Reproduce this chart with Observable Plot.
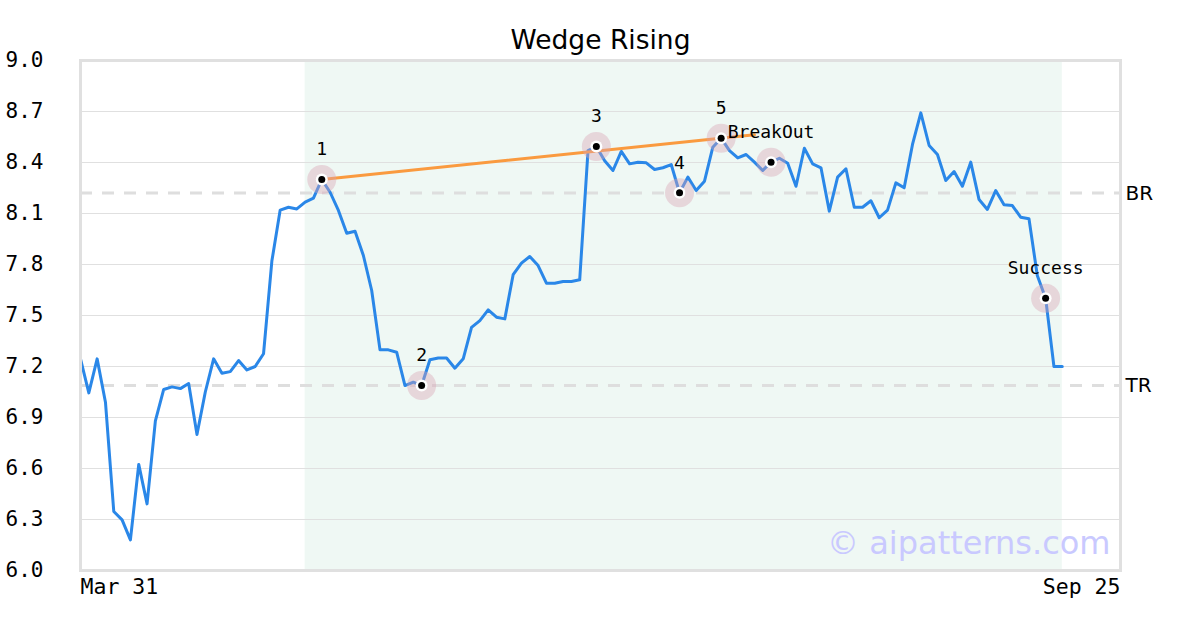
<!DOCTYPE html>
<html>
<head>
<meta charset="utf-8">
<script src="https://cdn.jsdelivr.net/npm/d3@7"></script>
<script src="https://cdn.jsdelivr.net/npm/@observablehq/plot@0.6"></script>
<style>
  html, body { margin: 0; padding: 0; background: #fff; }
</style>
</head>
<body>
<div id="chart"></div>
<script>
const title = "Wedge Rising";
const watermark = "© aipatterns.com";

// closing prices, one per trading session (index 0 = Mar 31)
const prices = [
  7.245, 7.045, 7.245, 6.99, 6.347, 6.298, 6.18, 6.624, 6.392, 6.88,
  7.065, 7.08, 7.07, 7.10, 6.80, 7.05, 7.245, 7.16, 7.17, 7.235,
  7.18, 7.20, 7.275, 7.82, 8.12, 8.137, 8.127, 8.167, 8.19, 8.30,
  8.225, 8.118, 7.984, 7.996, 7.853, 7.647, 7.298, 7.298, 7.284, 7.088,
  7.108, 7.088, 7.24, 7.25, 7.25, 7.19, 7.245, 7.43, 7.47, 7.533,
  7.49, 7.48, 7.74, 7.808, 7.847, 7.794, 7.69, 7.69, 7.70, 7.70,
  7.71, 8.47, 8.494, 8.41, 8.353, 8.465, 8.392, 8.402, 8.398, 8.359,
  8.369, 8.388, 8.222, 8.314, 8.235, 8.29, 8.49, 8.543, 8.47, 8.427,
  8.447, 8.402, 8.353, 8.402, 8.425, 8.396, 8.26, 8.484, 8.392, 8.369,
  8.114, 8.314, 8.363, 8.137, 8.137, 8.175, 8.075, 8.12, 8.28, 8.251,
  8.506, 8.692, 8.50, 8.447, 8.294, 8.347, 8.26, 8.402, 8.182, 8.124,
  8.235, 8.151, 8.147, 8.078, 8.069, 7.735, 7.602, 7.20, 7.20
];

// pattern points (session index) and their labels
const markerIndex = [29, 41, 62, 72, 77, 83, 116];
const markerLabels = ["1", "2", "3", "4", "5", "BreakOut", "Success"];

// upper trend line (session index, price)
const trendIndex = [29, 81];
const trendValue = [8.30, 8.563];

// levels
const levelValues = [8.22, 7.088];
const levelLabels = ["BR", "TR"];

// pattern window (session index)
const windowStart = 27;
const windowEnd = 118;

// axes
const xDomainEnd = 125;
const xTickIndex = [0, 125];
const xTickLabels = ["Mar 31", "Sep 25"];
const yTicks = [6.0, 6.3, 6.6, 6.9, 7.2, 7.5, 7.8, 8.1, 8.4, 8.7, 9.0];

const series = prices.map((v, i) => ({i, v}));
const markers = markerIndex.map((i, k) => ({i, v: prices[i], label: markerLabels[k]}));
const trend = trendIndex.map((i, k) => ({i, v: trendValue[k]}));
const levels = levelValues.map((v, k) => ({v, label: levelLabels[k]}));

const mono = "DejaVu Sans Mono";
const sans = "DejaVu Sans";

const chart = Plot.plot({
  width: 1200,
  height: 630,
  marginTop: 60,
  marginBottom: 60,
  marginLeft: 80,
  marginRight: 80,
  style: {fontFamily: mono, background: "#fff", color: "#000"},
  x: {domain: [0, xDomainEnd], axis: null},
  y: {domain: [6.0, 9.0], axis: null},
  marks: [
    Plot.rect([{x1: windowStart, x2: windowEnd}], {x1: "x1", x2: "x2", y1: 6.0, y2: 9.0, fill: "#eff8f4"}),
    Plot.gridY(yTicks, {stroke: "#e0e0e0", strokeOpacity: 1, strokeWidth: 1}),
    Plot.ruleY(levels, {y: "v", stroke: "#dedede", strokeWidth: 3, strokeDasharray: "12,10"}),
    Plot.text(levels, {y: "v", text: "label", frameAnchor: "right", dx: 5, textAnchor: "start", fontSize: 20, fontFamily: sans, fill: "#000"}),
    Plot.line(series, {x: "i", y: "v", stroke: "#2a87e8", strokeWidth: 3}),
    Plot.line(trend, {x: "i", y: "v", stroke: "#fa9a3f", strokeWidth: 3}),
    Plot.dot(markers, {x: "i", y: "v", r: 14.5, fill: "#d9a3b4", fillOpacity: 0.4, stroke: "none"}),
    Plot.dot(markers, {x: "i", y: "v", r: 6, fill: "#fff", stroke: "none"}),
    Plot.dot(markers, {x: "i", y: "v", r: 3.5, fill: "#000", stroke: "none"}),
    Plot.text(markers, {x: "i", y: "v", text: "label", dy: -30, fontSize: 18, fontFamily: mono, fill: "#000"}),
    Plot.frame({stroke: "#e0e0e0", strokeWidth: 3}),
    Plot.axisY(yTicks, {anchor: "left", tickSize: 0, tickPadding: 75, textAnchor: "start", fontSize: 21, fontFamily: mono, fill: "#000", tickFormat: d => d.toFixed(1), label: null}),
    Plot.axisX([xTickIndex[0]], {anchor: "bottom", tickSize: 0, tickPadding: 8, textAnchor: "start", fontSize: 21.5, fontFamily: mono, fill: "#000", tickFormat: () => xTickLabels[0], label: null}),
    Plot.axisX([xTickIndex[1]], {anchor: "bottom", tickSize: 0, tickPadding: 8, textAnchor: "end", fontSize: 21.5, fontFamily: mono, fill: "#000", tickFormat: () => xTickLabels[1], label: null}),
    Plot.text([title], {frameAnchor: "top", dy: -20, lineAnchor: "middle", fontSize: 26.5, fontFamily: sans, fill: "#000"}),
    Plot.text([watermark], {frameAnchor: "bottom-right", dx: -10, dy: -17, lineAnchor: "bottom", textAnchor: "end", fontSize: 32, fontFamily: sans, fill: "#c9c9ff"})
  ]
});

document.getElementById("chart").appendChild(chart);
</script>
</body>
</html>
